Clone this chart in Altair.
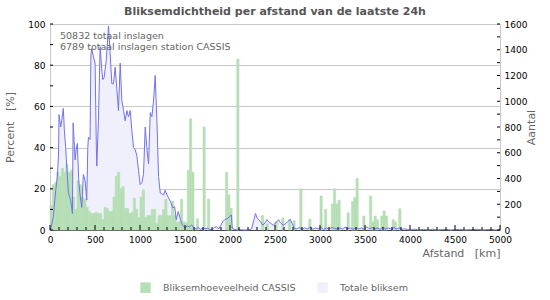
import altair as alt
import pandas as pd

# ---------------- data ----------------
TITLE = "Bliksemdichtheid per afstand van de laatste 24h"
notes = ["50832 totaal inslagen", "6789 totaal inslagen station CASSIS"]
series_names = ["Bliksemhoeveelheid CASSIS", "Totale bliksem"]

# CASSIS share per 25 km distance bin [%]
cassis_pct = [
    12, 22, 23, 28, 26, 30, 28, 32, 28, 29, 16, 10, 24, 22, 16, 15, 11, 9, 8, 8,
    8.5, 8, 8, 5, 11, 10.5, 9, 9, 16, 26, 28, 20, 21, 10.5, 10.5, 8, 8.5, 15.5, 10, 6,
    16, 19.5, 6, 7, 7, 10, 10, 3, 7, 7, 10, 15, 7, 7, 14, 7, 3.5, 4, 15, 4,
    3.5, 29, 54, 28, 0, 5.4, 0, 0, 50, 0, 15, 0, 0, 0, 0, 0, 0, 0, 28, 17,
    10.5, 0, 0, 83, 0, 0, 0, 0, 0, 0, 0, 0, 0, 0, 7, 0, 3, 0, 0, 0,
    4, 0, 0, 5.8, 0, 0, 5, 0, 4.5, 0, 0, 20, 0, 0, 0, 5.3, 0, 0, 0, 0,
    16.5, 0, 10, 0, 0, 12.6, 20, 12.6, 14.5, 0, 0, 0, 8.4, 0, 13.8, 15.8, 25, 0, 0, 6.8,
    0, 0, 16.5, 3.9, 6.8, 5, 0, 6.8, 9.3, 6.8, 0, 0, 5, 4, 0, 10.3, 0, 0, 0, 0,
]
bin_km = 25
bin_start = [i * bin_km for i in range(len(cassis_pct))]

# total lightning count (Aantal) along distance [km]
total_km = [
    0, 11, 37, 63, 82, 95, 100, 119, 130, 148, 160, 174, 186, 204, 230, 249, 257,
    279, 290, 304, 319, 334, 353, 371, 390, 408, 420, 427, 445, 455, 464, 483, 501,
    515, 520, 538, 557, 575, 586, 601, 624, 650, 668, 687, 705, 724, 742, 761, 780,
    798, 817, 835, 854, 872, 891, 910, 928, 947, 965, 984, 1002, 1021, 1039, 1058,
    1076, 1095, 1114, 1132, 1151, 1169, 1188, 1206, 1225, 1262, 1280, 1300, 1318,
    1340, 1365, 1385, 1403, 1425, 1450, 1470, 1503, 1525, 1550, 1575, 1600, 1625,
    1650, 1675, 1700, 1725, 1750, 1775, 1800, 1825, 1850, 1875, 1900, 1920, 1945,
    1970, 1990, 2015, 2025, 2050, 2075, 2100, 2150, 2200, 2240, 2265, 2283, 2300,
    2320, 2340, 2365, 2390, 2410, 2430, 2455, 2480, 2510, 2540, 2560, 2590, 2615,
    2640, 2670, 2690, 2715, 2740, 2770, 2800, 2830, 2860, 2890, 2920, 2950, 2980,
    3010, 3040, 3070, 3100, 3130, 3160, 3190, 3220, 3250, 3280, 3310, 3340, 3370,
    3400, 3430, 3460, 3490, 3520, 3550, 3580, 3610, 3640, 3670, 3700, 3730, 3760,
    3790, 3820, 3850, 3880, 3910, 3940, 3970, 4000, 4050, 4100, 4150, 4200, 4250,
    4300, 4400, 4450, 4550, 4600, 4750, 4800, 4900, 4950, 5000,
]
total_count = [
    0, 16, 104, 304, 416, 592, 896, 800, 848, 944, 768, 640, 496, 288, 232, 128, 832,
    544, 624, 672, 384, 272, 176, 432, 384, 232, 640, 720, 704, 1360, 1408, 1344, 1296,
    640, 496, 848, 1424, 1248, 1168, 1184, 1312, 1584, 1376, 1136, 1136, 1264, 1104, 928, 1296,
    1008, 928, 848, 928, 880, 928, 768, 640, 624, 576, 464, 352, 368, 432, 800,
    640, 512, 912, 880, 1008, 1200, 848, 416, 288, 272, 310, 272, 248,
    219, 171, 181, 80, 144, 80, 38, 16, 32, 24, 40, 16, 8,
    19, 5, 16, 8, 13, 5, 3, 19, 26, 8, 40, 64, 83,
    88, 101, 117, 13, 5, 0, 3, 0, 0, 8, 80, 128, 96,
    80, 64, 37, 56, 80, 64, 51, 37, 56, 80, 58, 37, 48,
    64, 83, 51, 13, 8, 19, 5, 16, 8, 24, 6, 16, 8,
    21, 5, 16, 8, 19, 13, 6, 16, 8, 22, 10, 16, 6,
    19, 8, 16, 5, 24, 10, 19, 8, 16, 6, 21, 8, 16,
    6, 19, 8, 16, 5, 10, 3, 0, 6, 0, 5, 0, 6,
    0, 5, 0, 5, 0, 5, 0, 5, 0, 0,
]

x_labels = list(range(0, 5001, 500))
pct_labels = list(range(0, 101, 20))
count_labels = list(range(0, 1601, 200))
x_minor = list(range(0, 5001, 100))
pct_minor = list(range(0, 101, 10))
count_minor = list(range(0, 1601, 100))

# ---------------- frames ----------------
df_cassis = pd.DataFrame({
    "start": bin_start,
    "end": [s + bin_km for s in bin_start],
    "pct": cassis_pct,
    "series": series_names[0],
})
df_cassis = df_cassis[df_cassis["pct"] > 0]
df_total = pd.DataFrame({"km": total_km, "count": total_count, "series": series_names[1]})
df_xminor = pd.DataFrame({"km": [k for k in x_minor if k % 500 != 0]})
df_xmajor = pd.DataFrame({"km": x_labels})
df_pticks = pd.DataFrame({"v": pct_minor})
df_cticks = pd.DataFrame({"v": count_minor})
df_notes = pd.DataFrame({"note": ["\n".join(notes)]})

W, H = 450, 206
FONT = "DejaVu Sans"
GRAY = "#666666"
GREEN = "#b6dfb6"
LAVENDER = "#f0f0fd"

x_scale = alt.Scale(domain=[0, 5000], nice=False)
pct_scale = alt.Scale(domain=[0, 100], nice=False)
cnt_scale = alt.Scale(domain=[0, 1600], nice=False)
color_scale = alt.Scale(domain=series_names, range=[GREEN, LAVENDER])

x_axis = alt.Axis(
    values=x_labels, format="d", title="Afstand\u00a0\u00a0\u00a0[km]", titleAnchor="end",
    titleFontSize=11, titleFontWeight="normal", titleColor=GRAY, titlePadding=3,
    labelFontSize=9, labelColor="#000", labelPadding=5, ticks=False, tickSize=0,
    domainColor="#444", grid=False, labelFlush=False,
)
legend = alt.Legend(
    title=None, orient="none", legendX=90, legendY=258, direction="horizontal",
    symbolType="square", symbolSize=110, symbolStrokeWidth=0, labelFontSize=9.5,
    labelColor=GRAY, labelOffset=12, columnPadding=21, padding=0, labelFont=FONT,
)

area = alt.Chart(df_total).mark_area(opacity=1).encode(
    x=alt.X("km:Q", scale=x_scale, axis=x_axis),
    y=alt.Y("count:Q", scale=cnt_scale, axis=alt.Axis(
        orient="right", values=count_labels, format="d", title="Aantal", titleAngle=270,
        titleFontSize=11, titleFontWeight="normal", titleColor=GRAY, titlePadding=10,
        labelFontSize=9, labelColor="#000", labelPadding=4, ticks=False, tickSize=0,
        grid=False, domainColor="#c8c8c8")),
    color=alt.Color("series:N", scale=color_scale, legend=legend),
)

bars = alt.Chart(df_cassis).mark_rect(opacity=1, stroke=GREEN, strokeWidth=0.6).encode(
    x=alt.X("start:Q", scale=x_scale, axis=x_axis),
    x2="end:Q",
    y=alt.Y("pct:Q", scale=pct_scale, axis=alt.Axis(
        orient="left", values=pct_labels, format="d", title="Percent\u00a0\u00a0\u00a0[%]",
        titleFontSize=11, titleFontWeight="normal", titleColor=GRAY, titlePadding=12,
        labelFontSize=9, labelColor="#000", labelPadding=5, ticks=False, tickSize=0,
        grid=True, gridColor="#c8c8c8", domainColor="#c8c8c8")),
    y2=alt.datum(0),
    color=alt.Color("series:N", scale=color_scale, legend=legend),
)

line = alt.Chart(df_total).mark_line(color="#7272ee", strokeWidth=1).encode(
    x=alt.X("km:Q", scale=x_scale, axis=x_axis),
    y=alt.Y("count:Q", scale=cnt_scale, axis=None),
)

tick_left = alt.Chart(df_pticks).mark_rule(color="#000").encode(
    y=alt.Y("v:Q", scale=pct_scale, axis=None),
    x=alt.value(0), x2=alt.value(3),
)
tick_right = alt.Chart(df_cticks).mark_rule(color="#000").encode(
    y=alt.Y("v:Q", scale=cnt_scale, axis=None),
    x=alt.value(W), x2=alt.value(W - 3),
)
tick_xminor = alt.Chart(df_xminor).mark_rule(color="#000").encode(
    x=alt.X("km:Q", scale=x_scale, axis=x_axis),
    y=alt.value(H), y2=alt.value(H - 3),
)
tick_xmajor = alt.Chart(df_xmajor).mark_rule(color="#000").encode(
    x=alt.X("km:Q", scale=x_scale, axis=x_axis),
    y=alt.value(H), y2=alt.value(H - 5),
)

notes_layer = alt.Chart(df_notes).mark_text(
    align="left", baseline="top", fontSize=9.5, color=GRAY, lineBreak="\n",
    lineHeight=11, font=FONT,
).encode(text="note:N", x=alt.value(10), y=alt.value(7))

chart = (
    alt.layer(area, bars, line, tick_left, tick_right, tick_xminor, tick_xmajor, notes_layer)
    .resolve_scale(y="independent")
    .properties(
        width=W, height=H,
        title=alt.TitleParams(TITLE, fontSize=11, fontWeight="bold", color="#555555",
                              anchor="middle", offset=3, font=FONT),
        autosize=alt.AutoSizeParams(type="none"),
        padding={"left": 50, "top": 24, "right": 50, "bottom": 70},
        background="white",
    )
    .configure(font=FONT)
    .configure_view(stroke="#c8c8c8", strokeWidth=1)
)

chart.save("out.html", embed_options={"renderer": "svg", "actions": False})
